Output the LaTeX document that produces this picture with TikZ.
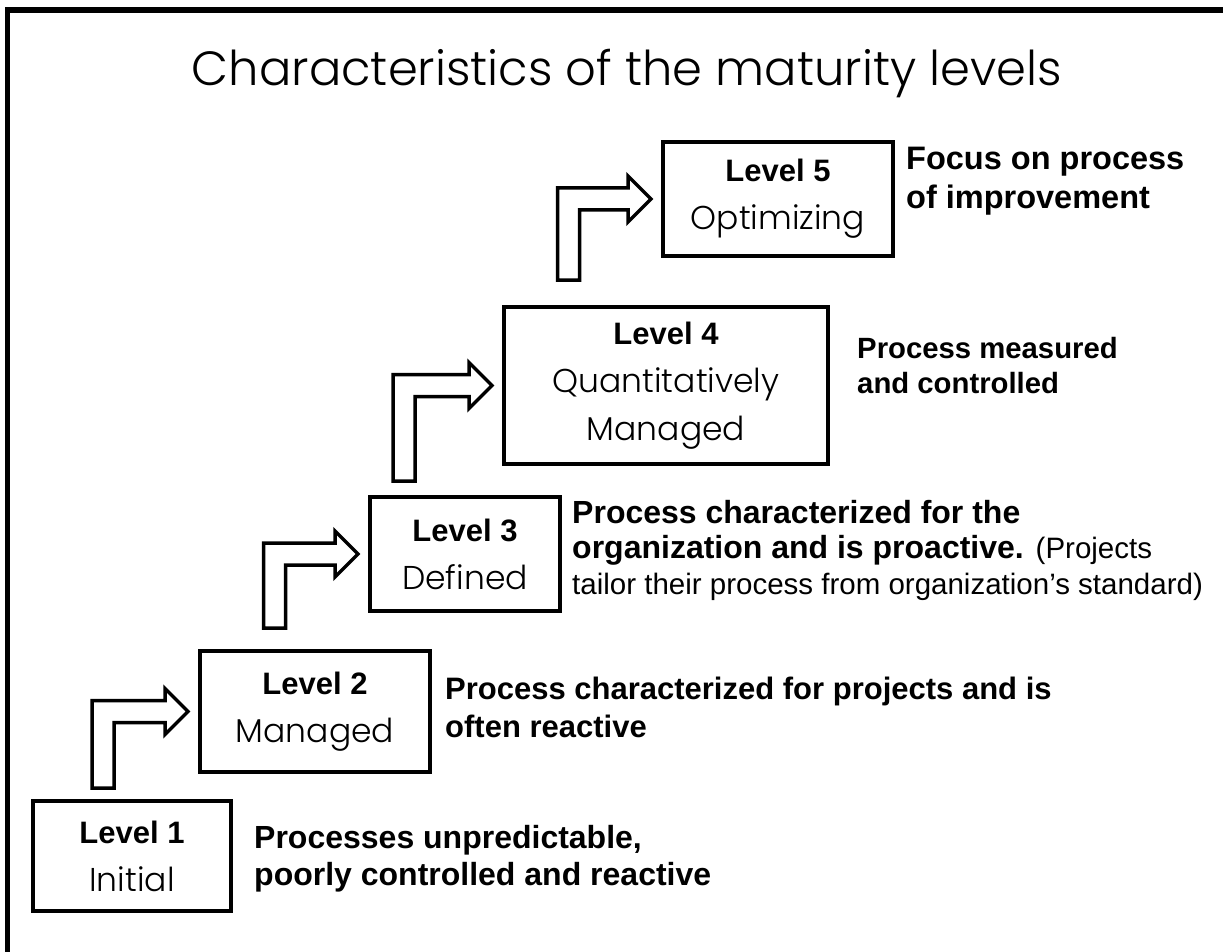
\documentclass[tikz,border=0pt]{standalone}
\usepackage{fontspec}
\setmainfont{Liberation Sans}
\newfontfamily\gothic{Poppins}[UprightFont={* Light}]
\usetikzlibrary{calc}

% bent block arrow from a start coordinate up and into the west side of a box
\newcommand\steparrow[2]{%
  \draw[stepout] let \p1 = (#1), \p2 = ($(#2.west)+(-10,0)$) in
    (\x1-11,\y1) |- (\x2-23,\y2+11) -- (\x2-23,\y2+23) -- (\p2)
    -- (\x2-23,\y2-23) -- (\x2-23,\y2-11) -| (\x1+11,\y1) -- cycle;}
\newcommand\lvname{\gothic\fontsize{33}{48}\selectfont}

\begin{document}
\begin{tikzpicture}[x=1pt, y=-1pt,
    levelbox/.style = {draw, line width=4pt, inner sep=0pt, align=center,
                       font=\fontsize{31}{48}\selectfont},
    leveltext/.style 2 args = {anchor=north west, inner sep=0pt, align=left,
                        font=\fontsize{#1}{#2}\selectfont\bfseries},
    stepout/.style = {draw, line width=3.5pt, miter limit=10}
  ]
  \useasboundingbox (0,0) rectangle (1223,952);
  \draw[line width=5.5pt] (7.5,952) |- (1223,10);

  \node[font=\gothic\fontsize{48}{50}\selectfont, anchor=base] (title) at (627,86)
    {Characteristics of the maturity levels};

  \node[levelbox, minimum width=198pt, minimum height=110pt] (L1) at (132,856)
    {\bfseries Level 1\\\lvname Initial};
  \node[levelbox, minimum width=230pt, minimum height=121pt] (L2) at (315,711.5)
    {\bfseries Level 2\\\lvname Managed};
  \node[levelbox, minimum width=190pt, minimum height=114pt] (L3) at (465,554)
    {\bfseries Level 3\\\lvname Defined};
  \node[levelbox, minimum width=324pt, minimum height=157pt] (L4) at (666,385.5)
    {\bfseries Level 4\\\lvname Quantitatively\\\lvname Managed};
  \node[levelbox, minimum width=230pt, minimum height=114pt] (L5) at (778,199)
    {\bfseries Level 5\\\lvname Optimizing};

  \node[leveltext={32}{37}] (D1) at (254,825) {Processes unpredictable,\\poorly controlled and reactive};
  \node[leveltext={31}{38}] (D2) at (445,677) {Process characterized for projects and is\\often reactive};
  \node[leveltext={32}{35.5}] (D3) at (572,500) {Process characterized for the\\organization and is proactive.
    {\mdseries\fontsize{29.5}{35.5}\selectfont(Projects}\\{\mdseries\fontsize{29.5}{35.5}\selectfont tailor their process from organization’s standard)}};
  \node[leveltext={29.3}{35}] (D4) at (857,337) {Process measured\\and controlled};
  \node[leveltext={32.5}{39}] (D5) at (906,147) {Focus on process\\of improvement};

  \coordinate (s1) at (103,788);
  \coordinate (s2) at (274.5,628);
  \coordinate (s3) at (404,481);
  \coordinate (s4) at (568.5,280);
  \steparrow{s1}{L2}
  \steparrow{s2}{L3}
  \steparrow{s3}{L4}
  \steparrow{s4}{L5}
\end{tikzpicture}
\end{document}
